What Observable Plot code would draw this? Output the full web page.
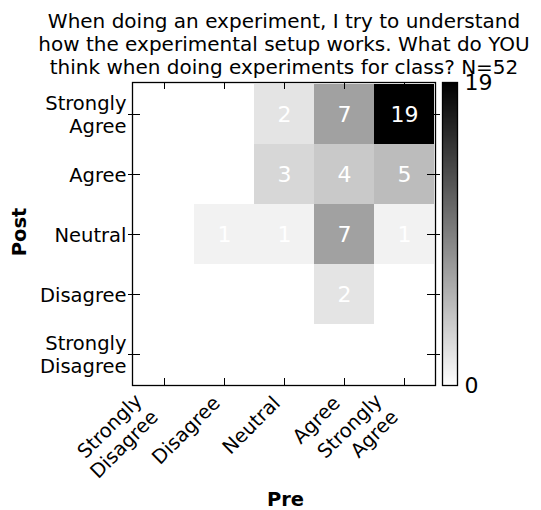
<!DOCTYPE html>
<html>
<head>
<meta charset="utf-8">
<script src="https://cdn.jsdelivr.net/npm/d3@7"></script>
<script src="https://cdn.jsdelivr.net/npm/@observablehq/plot@0.6"></script>
<style>
  body { margin: 0; background: #fff; }
  #wrap { position: relative; width: 541px; height: 510px; }
  #cb { position: absolute; left: 437px; top: 0; }
</style>
</head>
<body>
<div id="wrap"><div id="main"></div><div id="cb"></div></div>
<script>
// ---- data ----
const title = "When doing an experiment, I try to understand\nhow the experimental setup works. What do YOU\nthink when doing experiments for class? N=52";
const xTitle = "Pre";
const yTitle = "Post";
const preLabels = ["Strongly\nDisagree", "Disagree", "Neutral", "Agree", "Strongly\nAgree"];
const postLabels = ["Strongly\nAgree", "Agree", "Neutral", "Disagree", "Strongly\nDisagree"];
// counts for each Post row, across Pre columns (SD, D, N, A, SA)
const postStronglyAgree    = [0, 0, 2, 7, 19];
const postAgree            = [0, 0, 3, 4, 5];
const postNeutral          = [0, 1, 1, 7, 1];
const postDisagree         = [0, 0, 0, 2, 0];
const postStronglyDisagree = [0, 0, 0, 0, 0];
const colorTicks = [0, 19];

const rows = [postStronglyAgree, postAgree, postNeutral, postDisagree, postStronglyDisagree];
const cells = postLabels.flatMap((post, i) => rows[i].map((count, j) => ({pre: preLabels[j], post, count})));

// ---- layout ----
const W = 541, H = 510, mL = 132, mR = 106, mT = 82, mB = 125;
const fw = W - mL - mR, fh = H - mT - mB;
const font = "DejaVu Sans";
const color = {type: "linear", domain: [d3.min(colorTicks), d3.max(colorTicks)], range: ["white", "black"], interpolate: "rgb"};

const singles = preLabels.filter(d => !d.includes("\n"));
const doubles = preLabels.filter(d => d.includes("\n"));

const main = Plot.plot({
  width: W, height: H,
  marginLeft: mL, marginRight: mR, marginTop: mT, marginBottom: mB,
  style: {fontFamily: font, fontSize: "19.5px", background: "white", color: "black"},
  x: {domain: preLabels, padding: 0, axis: null},
  y: {domain: postLabels, padding: 0, axis: null},
  color,
  marks: [
    Plot.cell(cells, {x: "pre", y: "post", fill: "count"}),
    Plot.text(cells.filter(d => d.count > 0), {x: "pre", y: "post", text: d => String(d.count), fill: "white", fontSize: 22}),
    Plot.frame({stroke: "black", strokeWidth: 1.3}),
    // ticks (inside on top/bottom, crossing on left/right)
    Plot.ruleX(preLabels, {x: d => d, insetBottom: fh - 7, stroke: "black"}),
    Plot.ruleX(preLabels, {x: d => d, insetTop: fh - 7, stroke: "black"}),
    Plot.ruleY(postLabels, {y: d => d, insetLeft: -4, insetRight: fw - 8, stroke: "black"}),
    Plot.ruleY(postLabels, {y: d => d, insetLeft: fw - 8, insetRight: -5, stroke: "black"}),
    // y tick labels
    Plot.text(postLabels, {y: d => d, text: d => d, frameAnchor: "left", textAnchor: "end", lineAnchor: "middle", dx: -6, lineHeight: 1.15, fontSize: 19.5}),
    // x tick labels (rotated)
    Plot.text(singles, {x: d => d, text: d => d, frameAnchor: "bottom", rotate: -45, textAnchor: "end", lineAnchor: "top", dx: -13, dy: 9, fontSize: 19.5}),
    Plot.text(doubles, {x: d => d, text: d => d, frameAnchor: "bottom", rotate: -45, textAnchor: "end", lineAnchor: "top", dx: -33, dy: 5, lineHeight: 1.18, fontSize: 19.5}),
    // axis titles
    Plot.text([xTitle], {text: d => d, frameAnchor: "bottom", textAnchor: "middle", lineAnchor: "middle", dx: 1.5, dy: 114, fontWeight: "bold", fontSize: 19.5}),
    Plot.text([yTitle], {text: d => d, frameAnchor: "left", textAnchor: "middle", lineAnchor: "middle", rotate: -90, dx: -113, dy: -2, fontWeight: "bold", fontSize: 19.5}),
    // title
    Plot.text([title], {text: d => d, frameAnchor: "top", textAnchor: "middle", lineAnchor: "top", dy: -71, lineHeight: 1.15, fontSize: 20})
  ]
});
document.getElementById("main").append(main);

const cb = Plot.plot({
  width: 104, height: H,
  marginLeft: 5, marginRight: 84, marginTop: mT, marginBottom: mB,
  style: {fontFamily: font, fontSize: "22px", background: "transparent", color: "black"},
  x: {domain: [0, 1], axis: null},
  y: {domain: [d3.min(colorTicks), d3.max(colorTicks)], axis: null},
  color,
  marks: [
    Plot.raster({x1: 0, x2: 1, y1: d3.min(colorTicks), y2: d3.max(colorTicks), fill: (x, y) => y, width: 1, height: 303, imageRendering: "auto"}),
    Plot.frame({stroke: "black", strokeWidth: 1.3}),
    Plot.text(colorTicks, {y: d => d, text: d => String(d), frameAnchor: "right", textAnchor: "start", lineAnchor: "middle", dx: 7, fontSize: 22})
  ]
});
document.getElementById("cb").append(cb);
</script>
</body>
</html>
